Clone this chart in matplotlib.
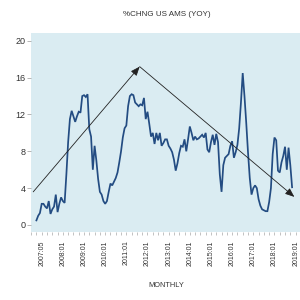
import numpy as np
import matplotlib
matplotlib.use('Agg')
from matplotlib import pyplot as plt

# monthly % change, first obs 2006:10
start_year, start_month = 2006, 10
yoy = [0.5, 1.0, 1.3, 2.3, 2.3, 2.0, 1.8, 2.6, 1.2, 1.7,
       2.0, 3.3, 1.4, 2.3, 3.0, 2.6, 2.4, 5.5, 9.0, 11.5,
       12.4, 11.8, 11.2, 11.8, 12.3, 12.2, 14.0, 14.1, 13.9, 14.2,
       10.4, 9.6, 6.0, 8.6, 7.0, 5.0, 3.6, 3.3, 2.6, 2.3,
       2.6, 3.6, 4.5, 4.3, 4.7, 5.1, 5.7, 6.8, 8.0, 9.5,
       10.5, 10.8, 12.9, 14.0, 14.2, 14.1, 13.3, 13.1, 12.9, 13.1,
       13.0, 13.8, 11.5, 12.3, 11.0, 9.6, 10.0, 8.8, 10.0, 9.2,
       10.0, 8.6, 8.9, 9.3, 9.3, 8.6, 8.3, 7.9, 7.1, 5.9,
       6.7, 7.8, 8.6, 8.5, 9.3, 8.0, 9.3, 10.7, 10.0, 9.2,
       9.6, 9.3, 9.4, 9.6, 9.8, 9.5, 10.0, 8.2, 7.9, 9.0,
       9.8, 8.7, 9.9, 9.0, 5.5, 3.6, 6.5, 7.3, 7.5, 7.7,
       8.6, 9.1, 7.3, 7.9, 8.7, 10.5, 13.3, 16.5, 14.0, 11.1,
       7.9, 5.1, 3.3, 4.0, 4.3, 4.0, 2.8, 2.1, 1.7, 1.6,
       1.5, 1.5, 2.5, 4.0, 7.7, 9.5, 9.2, 5.9, 5.7, 6.8,
       7.5, 8.5, 6.0, 8.4, 6.5, 4.1]

tick_pos = [2007.0] + list(range(2008, 2020))
tick_lab = ['2007:05'] + ['%d:01' % y for y in range(2008, 2020)]
y_ticks = [0, 4, 8, 12, 16, 20]

# trend arrows drawn on the chart: (x, y) in decimal years / %
arrow_start = (2006.6, 3.6)
arrow_peak = (2011.63, 17.2)
arrow_end = (2018.94, 3.05)

t = start_year + (start_month - 1 + np.arange(len(yoy))) / 12.0

plt.rcParams['font.family'] = ['Liberation Sans', 'DejaVu Sans']
fig = plt.figure(figsize=(3, 3), dpi=100)
ax = fig.add_axes([0.103, 0.227, 0.9, 0.663])
ax.set_facecolor('#daecf2')
for s in ax.spines.values():
  s.set_visible(False)

ax.plot(t, yoy, color='#234c82', lw=1.25, solid_joinstyle='miter')

ap = dict(arrowstyle='-|>,head_length=0.55,head_width=0.22', color='#222222', lw=0.6,
          shrinkA=0, shrinkB=0)
ax.annotate('', xy=arrow_peak, xytext=arrow_start, arrowprops=ap)
ax.annotate('', xy=arrow_end, xytext=arrow_peak, arrowprops=ap)

ax.set_xlim(2006.49, 2019.2)
ax.set_ylim(-0.75, 20.85)
ax.set_yticks(y_ticks)
ax.set_xticks(tick_pos)
ax.set_xticklabels(tick_lab, rotation=90)
ax.set_xticks(np.arange(2006.5, 2019.3, 0.25), minor=True)
ax.tick_params(axis='y', labelsize=6.5, colors='#999999', labelcolor='#333333',
               length=3, width=0.5, pad=1)
ax.tick_params(axis='x', which='both', labelsize=5, colors='#aaaaaa',
               labelcolor='#333333', length=2, width=0.5, pad=4)

fig.text(0.555, 0.953, '%CHNG US AMS (YOY)', ha='center', va='center',
         fontsize=5.8, color='#333333')
fig.text(0.555, 0.047, 'MONTHLY', ha='center', va='center',
         fontsize=5.3, color='#333333')

fig.savefig('out.png', dpi=100, facecolor='white')
